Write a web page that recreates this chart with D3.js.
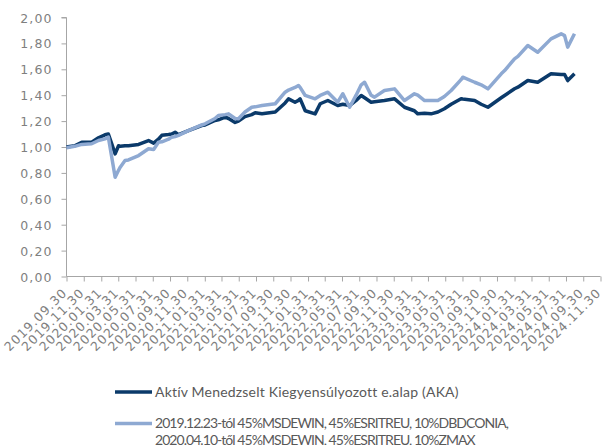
<!DOCTYPE html>
<html>
<head>
<meta charset="utf-8">
<script src="https://cdn.jsdelivr.net/npm/d3@7"></script>
<style>
  body { margin: 0; background: #fff; }
  svg { display: block; }
  .tick-label { font-family: "DejaVu Sans", sans-serif; font-size: 12.5px; fill: #7f7f7f; letter-spacing: 1.1px; }
  .legend-text { font-family: Lato, sans-serif; font-size: 14px; fill: #595959; }
</style>
</head>
<body>
<div id="chart"></div>
<script>
var dates = [
  "2019.09.30", "2019.10.29", "2019.11.23", "2019.12.28", "2020.01.21", "2020.02.13", "2020.02.25",
  "2020.03.08", "2020.03.20", "2020.04.01", "2020.04.07", "2020.04.24", "2020.05.06", "2020.06.11",
  "2020.07.16", "2020.08.03", "2020.08.20", "2020.09.01", "2020.09.25", "2020.10.06", "2020.10.18",
  "2020.10.30", "2020.12.04", "2021.01.20", "2021.02.01", "2021.03.08", "2021.03.20", "2021.04.13",
  "2021.04.25", "2021.05.18", "2021.05.30", "2021.06.22", "2021.07.16", "2021.07.28", "2021.08.21",
  "2021.10.07", "2021.11.11", "2021.11.23", "2021.12.16", "2021.12.28", "2022.01.03", "2022.01.21",
  "2022.02.25", "2022.03.15", "2022.04.11", "2022.05.16", "2022.06.03", "2022.06.27", "2022.07.20",
  "2022.08.07", "2022.08.19", "2022.09.11", "2022.09.23", "2022.10.28", "2022.12.03", "2023.01.07",
  "2023.02.11", "2023.02.23", "2023.03.19", "2023.04.11", "2023.05.05", "2023.05.28", "2023.06.21",
  "2023.07.26", "2023.08.01", "2023.09.12", "2023.10.05", "2023.10.29", "2023.12.15", "2023.12.27",
  "2024.01.31", "2024.02.12", "2024.03.18", "2024.04.22", "2024.06.08", "2024.07.14", "2024.07.26",
  "2024.08.06", "2024.08.30"
];

// Aktív Menedzselt Kiegyensúlyozott e.alap (AKA)
var akaValues = [
  1.00, 1.01, 1.037, 1.037, 1.071, 1.094, 1.10,
  1.025, 0.947, 1.01, 1.005, 1.01, 1.01, 1.02,
  1.05, 1.03, 1.06, 1.09, 1.096, 1.10, 1.114,
  1.096, 1.127, 1.166, 1.17, 1.205, 1.21, 1.23,
  1.22, 1.19, 1.20, 1.235, 1.25, 1.264, 1.256,
  1.27, 1.34, 1.372, 1.346, 1.36, 1.372, 1.28,
  1.256, 1.334, 1.359, 1.32, 1.33, 1.32, 1.36,
  1.398, 1.38, 1.346, 1.35, 1.359, 1.372, 1.307,
  1.28, 1.256, 1.26, 1.256, 1.27, 1.295, 1.33,
  1.372, 1.37, 1.359, 1.33, 1.307, 1.38, 1.398,
  1.45, 1.462, 1.513, 1.50, 1.565, 1.56, 1.56,
  1.513, 1.565
];

// benchmark
var benchValues = [
  0.995, 1.005, 1.02, 1.025, 1.05, 1.063, 1.076,
  0.921, 0.767, 0.82, 0.844, 0.896, 0.90, 0.934,
  0.986, 0.98, 1.037, 1.04, 1.06, 1.076, 1.08,
  1.09, 1.127, 1.17, 1.179, 1.22, 1.243, 1.25,
  1.256, 1.22, 1.218, 1.27, 1.307, 1.31, 1.32,
  1.334, 1.423, 1.44, 1.46, 1.475, 1.46, 1.398,
  1.372, 1.398, 1.423, 1.346, 1.411, 1.307, 1.40,
  1.48, 1.50, 1.40, 1.385, 1.436, 1.449, 1.359,
  1.411, 1.40, 1.359, 1.36, 1.359, 1.39, 1.436,
  1.52, 1.539, 1.50, 1.48, 1.449, 1.565, 1.59,
  1.681, 1.70, 1.784, 1.732, 1.835, 1.874, 1.86,
  1.771, 1.874
];

var xTickLabels = [
  "2019.09.30", "2019.11.30", "2020.01.31", "2020.03.31", "2020.05.31", "2020.07.31", "2020.09.30", "2020.11.30",
  "2021.01.31", "2021.03.31", "2021.05.31", "2021.07.31", "2021.09.30", "2021.11.30", "2022.01.31", "2022.03.31",
  "2022.05.31", "2022.07.31", "2022.09.30", "2022.11.30", "2023.01.31", "2023.03.31", "2023.05.31", "2023.07.31",
  "2023.09.30", "2023.11.30", "2024.01.31", "2024.03.31", "2024.05.31", "2024.07.31", "2024.09.30", "2024.11.30"
];

var yTicks = [0, 0.2, 0.4, 0.6, 0.8, 1.0, 1.2, 1.4, 1.6, 1.8, 2.0];

var seriesNames = [
  ["Aktív Menedzselt Kiegyensúlyozott e.alap (AKA)"],
  ["2019.12.23-tól 45%MSDEWIN, 45%ESRITREU, 10%DBDCONIA,", "2020.04.10-től 45%MSDEWIN, 45%ESRITREU, 10%ZMAX"]
];
var seriesColors = ["#0b3a6a", "#8ea9d2"];

var W = 603, H = 445;
var parse = d3.timeParse("%Y.%m.%d");

var svg = d3.select("#chart").append("svg")
    .attr("width", W)
    .attr("height", H);

var x = d3.scaleTime()
    .domain([parse(xTickLabels[0]), parse(xTickLabels[xTickLabels.length - 1])])
    .range([66.5, 600.5]);

var y = d3.scaleLinear()
    .domain([0, 2])
    .range([276.5, 17.5]);

var fmt = function (d) { return d3.format(".2f")(d).replace(".", ","); };

// y axis
var yAxis = d3.axisLeft(y)
    .tickValues(yTicks)
    .tickSize(5)
    .tickFormat(fmt);

var gy = svg.append("g")
    .attr("transform", "translate(" + 66.5 + ",0)")
    .call(yAxis);
gy.select(".domain").attr("stroke", "#a6a6a6").attr("d", "M-5," + y(2) + "H0V" + y(0));
gy.selectAll(".tick line").attr("stroke", "#a6a6a6");
gy.selectAll(".tick text")
    .attr("class", "tick-label")
    .attr("x", -14)
    .attr("dy", "0.36em");

// x axis
var xAxis = d3.axisBottom(x)
    .tickValues(xTickLabels.map(parse))
    .tickSize(5)
    .tickFormat(d3.timeFormat("%Y.%m.%d"));

var gx = svg.append("g")
    .attr("transform", "translate(0," + 276.5 + ")")
    .call(xAxis);
gx.select(".domain").attr("stroke", "#a6a6a6").attr("d", "M" + x.range()[0] + ",0H" + x.range()[1]);
gx.selectAll(".tick line").attr("stroke", "#a6a6a6");
gx.selectAll(".tick text")
    .attr("class", "tick-label")
    .attr("text-anchor", "end")
    .attr("y", 0)
    .attr("dy", 0)
    .attr("transform", "translate(1,17) rotate(-45)");

// lines
var line = d3.line()
    .x(function (d) { return x(d.date); })
    .y(function (d) { return y(d.value); });

var series = [akaValues, benchValues];
// benchmark is drawn over the fund line
[0, 1].forEach(function (s) {
    var pts = dates.map(function (dt, i) { return { date: parse(dt), value: series[s][i] }; });
    svg.append("path")
        .datum(pts)
        .attr("fill", "none")
        .attr("stroke", seriesColors[s])
        .attr("stroke-width", 3.5)
        .attr("stroke-linejoin", "round")
        .attr("d", line);
});

// legend
var spacing = [0.2, -0.95];
var legend = svg.append("g");
seriesNames.forEach(function (lines, i) {
    var ly = i === 0 ? 392 : 423.5;
    legend.append("line")
        .attr("x1", 115).attr("x2", 152)
        .attr("y1", ly).attr("y2", ly)
        .attr("stroke", seriesColors[i])
        .attr("stroke-width", 3.5);
    lines.forEach(function (t, j) {
        legend.append("text")
            .attr("class", "legend-text")
            .attr("x", 155)
            .attr("y", ly + 4.5 + j * 17)
            .style("letter-spacing", spacing[i] + "px")
            .text(t);
    });
});
</script>
</body>
</html>
